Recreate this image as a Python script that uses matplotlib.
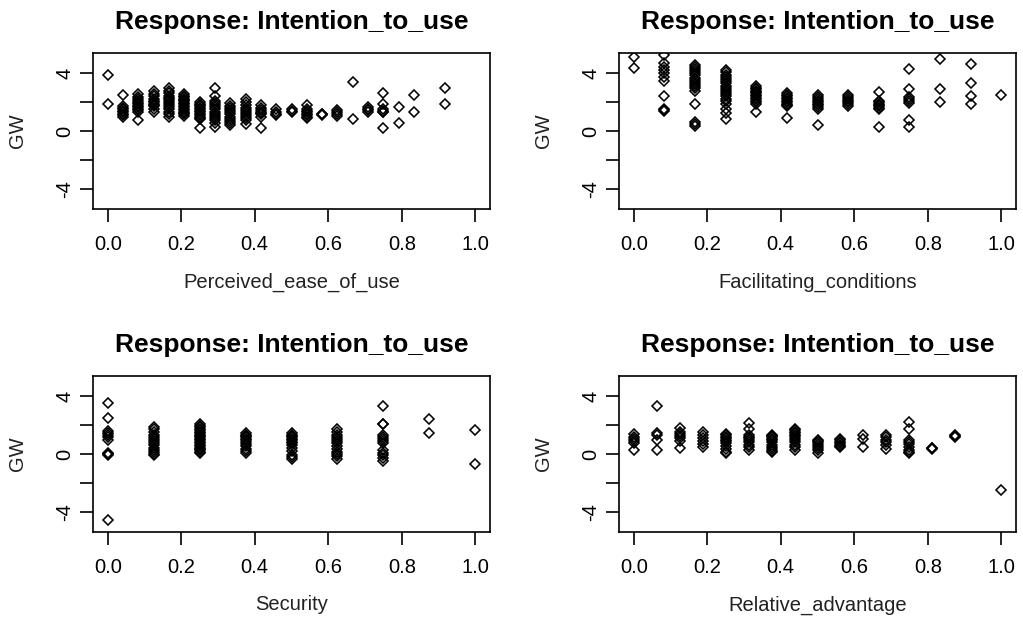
import numpy as np
import matplotlib
matplotlib.use("Agg")
import matplotlib.pyplot as plt

plt.rcParams['font.family'] = ['Liberation Sans', 'DejaVu Sans']

title = "Response: Intention_to_use"
ylab = "GW"
xlabels = ["Perceived_ease_of_use", "Facilitating_conditions", "Security", "Relative_advantage"]

# x levels and GW values (one list of y per x level)
peou_x = [0.0, 0.0417, 0.0833, 0.125, 0.1667, 0.2083, 0.25, 0.2917, 0.3333, 0.375,
          0.4167, 0.4583, 0.5, 0.5417, 0.5833, 0.625, 0.6667, 0.7083, 0.75, 0.7917,
          0.8333, 0.9167]
peou_gw = [
    [3.9, 1.9],
    [2.5, 1.75, 1.6, 1.5, 1.4, 1.3, 1.2, 1.1, 0.95],
    [2.55, 2.35, 2.2, 2.05, 1.95, 1.85, 1.75, 1.65, 1.55, 1.45, 1.35, 0.75],
    [2.75, 2.55, 2.4, 2.25, 2.1, 2.0, 1.9, 1.8, 1.7, 1.5, 1.3],
    [3.0, 2.8, 2.6, 2.45, 2.3, 2.2, 2.05, 1.95, 1.8, 1.65, 1.5, 1.35, 1.2, 0.95],
    [2.55, 2.45, 2.35, 2.25, 2.15, 2.05, 1.95, 1.85, 1.75, 1.65, 1.55, 1.45, 1.35, 1.25, 1.15, 1.05],
    [2.0, 1.9, 1.8, 1.7, 1.6, 1.5, 1.4, 1.3, 1.2, 1.1, 1.0, 0.9, 0.8, 0.2],
    [3.0, 2.45, 2.1, 1.95, 1.8, 1.65, 1.5, 1.35, 1.2, 1.05, 0.9, 0.75, 0.55, 0.3],
    [1.95, 1.75, 1.6, 1.45, 1.3, 1.15, 1.0, 0.85, 0.7, 0.55, 0.45],
    [2.2, 2.0, 1.8, 1.6, 1.45, 1.3, 1.2, 1.05, 0.9, 0.75, 0.5],
    [1.8, 1.6, 1.45, 1.35, 1.25, 1.15, 1.0, 0.2],
    [1.5, 1.35, 1.2, 1.1],
    [1.5, 1.4, 1.3],
    [1.8, 1.55, 1.4, 1.3, 1.2, 1.1, 1.0, 0.9],
    [1.2, 1.15, 1.1],
    [1.45, 1.3, 1.15, 1.05],
    [3.4, 0.85],
    [1.65, 1.55, 1.45, 1.35],
    [2.65, 1.85, 1.5, 1.4, 1.35, 1.3, 0.2],
    [1.65, 0.55],
    [2.5, 1.3],
    [3.0, 1.9],
]

fc_x = [0.0, 0.0833, 0.1667, 0.25, 0.3333, 0.4167, 0.5, 0.5833, 0.6667, 0.75,
        0.8333, 0.9167, 1.0]
fc_gw = [
    [5.15, 4.35],
    [5.25, 4.7, 4.4, 4.2, 4.0, 3.75, 3.45, 2.45, 1.5, 1.45, 1.4],
    [4.6, 4.45, 4.3, 4.15, 4.0, 3.85, 3.7, 3.55, 3.4, 3.25, 3.1, 2.95, 2.8, 1.9, 0.65, 0.5, 0.35],
    [4.2, 4.05, 3.9, 3.75, 3.6, 3.45, 3.3, 3.15, 3.0, 2.85, 2.7, 2.55, 2.4, 2.25, 2.05, 1.85, 1.55, 1.25, 0.85],
    [3.1, 3.0, 2.9, 2.8, 2.7, 2.6, 2.5, 2.4, 2.3, 2.2, 2.1, 2.0, 1.9, 1.3],
    [2.65, 2.5, 2.4, 2.3, 2.2, 2.1, 2.0, 1.9, 1.8, 1.7, 0.9],
    [2.5, 2.35, 2.2, 2.1, 2.0, 1.9, 1.8, 1.65, 1.5, 0.4],
    [2.5, 2.35, 2.2, 2.1, 2.0, 1.85, 1.7],
    [2.7, 2.1, 2.0, 1.9, 1.8, 1.7, 1.6, 1.5, 0.3],
    [4.3, 2.9, 2.35, 2.2, 2.05, 1.95, 0.75, 0.25],
    [5.0, 2.9, 2.0],
    [4.65, 3.3, 2.45, 1.9],
    [2.5],
]

sec_x = [0.0, 0.125, 0.25, 0.375, 0.5, 0.625, 0.75, 0.875, 1.0]
sec_gw = [
    [3.5, 2.5, 1.6, 1.45, 1.3, 1.15, 1.0, 0.05, 0.0, -0.05, -4.6],
    [1.9, 1.7, 1.5, 1.35, 1.2, 1.05, 0.9, 0.75, 0.6, 0.45, 0.3, 0.15, 0.0, -0.05],
    [2.05, 1.95, 1.85, 1.75, 1.65, 1.55, 1.45, 1.35, 1.25, 1.15, 1.05, 0.95, 0.85,
     0.75, 0.65, 0.55, 0.45, 0.35, 0.25, 0.15, 0.05],
    [1.45, 1.35, 1.25, 1.15, 1.05, 0.95, 0.85, 0.7, 0.55, 0.35, 0.2, 0.05],
    [1.45, 1.35, 1.25, 1.15, 1.05, 0.95, 0.85, 0.75, 0.6, 0.4, 0.2, -0.05, -0.2, -0.35],
    [1.7, 1.5, 1.35, 1.2, 1.05, 0.9, 0.75, 0.55, 0.35, 0.15, 0.0, -0.15, -0.35],
    [3.3, 2.1, 2.05, 1.35, 1.2, 1.05, 0.9, 0.75, 0.3, 0.1, -0.1, -0.3, -0.5],
    [2.45, 1.45],
    [1.65, -0.7],
]

ra_x = [0.0, 0.0625, 0.125, 0.1875, 0.25, 0.3125, 0.375, 0.4375, 0.5, 0.5625,
        0.625, 0.6875, 0.75, 0.8125, 0.875, 1.0]
ra_gw = [
    [1.4, 1.2, 1.05, 0.9, 0.75, 0.25],
    [3.3, 1.45, 1.3, 0.95, 0.3],
    [1.8, 1.55, 1.4, 1.25, 1.1, 0.9, 0.4],
    [1.5, 1.3, 1.1, 0.9, 0.7, 0.5],
    [1.4, 1.3, 1.2, 1.1, 1.0, 0.9, 0.75, 0.55, 0.35, 0.15, 0.05],
    [2.15, 1.75, 1.3, 1.2, 1.1, 0.95, 0.8, 0.65, 0.5, 0.3],
    [1.35, 1.25, 1.15, 1.05, 0.95, 0.8, 0.65, 0.5, 0.35, 0.2, 0.15],
    [1.75, 1.65, 1.55, 1.45, 1.35, 1.25, 1.1, 0.95, 0.8, 0.65, 0.5, 0.3],
    [1.0, 0.9, 0.8, 0.7, 0.55, 0.4, 0.25, 0.05],
    [1.05, 0.95, 0.85, 0.75, 0.65, 0.55, 0.5],
    [1.3, 1.05, 0.5],
    [1.35, 1.15, 1.0, 0.85, 0.6, 0.35],
    [2.25, 1.7, 1.0, 0.85, 0.7, 0.5, 0.3, 0.15, 0.1],
    [0.4, 0.35, 0.45],
    [1.35, 1.25, 1.15],
    [-2.5],
]

xticks = [0.0, 0.2, 0.4, 0.6, 0.8, 1.0]
xticklabels = ["0.0", "0.2", "0.4", "0.6", "0.8", "1.0"]
yticks = [-4, -2, 0, 2, 4]
yticklabels = ["-4", "", "0", "", "4"]

panels = [(peou_x, peou_gw), (fc_x, fc_gw), (sec_x, sec_gw), (ra_x, ra_gw)]

W, H = 1023, 620
fig = plt.figure(figsize=(W / 100, H / 100), dpi=100)

# boxes in pixels: left, top, width, height
boxes = [(93, 53, 397, 156), (619, 53, 397, 156), (93, 376, 397, 156), (619, 376, 397, 156)]

for (xl, yl), xlab, (bl, bt, bw, bh) in zip(panels, xlabels, boxes):
    ax = fig.add_axes([bl / W, 1 - (bt + bh) / H, bw / W, bh / H])
    xs = np.concatenate([[x] * len(g) for x, g in zip(xl, yl)])
    ys = np.concatenate(yl)
    ax.plot(xs, ys, linestyle='none', marker='D', markersize=5.5,
            markerfacecolor='none', markeredgecolor='black', markeredgewidth=1.15)
    ax.set_xlim(-0.04, 1.04)
    ax.set_ylim(-5.4, 5.4)
    ax.set_xticks(xticks)
    ax.set_xticklabels(xticklabels)
    ax.set_yticks(yticks)
    ax.set_yticklabels(yticklabels, rotation=90, va='center')
    ax.tick_params(direction='out', length=9.4, width=1.2, labelsize=14.5, colors='black')
    ax.tick_params(axis='x', pad=9)
    ax.tick_params(axis='y', pad=4)
    for s in ax.spines.values():
        s.set_linewidth(1.2)
    ax.set_title(title, fontsize=19, fontweight='bold', pad=17)
    ax.text(0.5, -73 / bh, xlab, transform=ax.transAxes, ha='center', va='center',
            fontsize=14.5, color='#222222')
    ax.text(-76 / bw, 0.5, ylab, transform=ax.transAxes, ha='center', va='center',
            rotation=90, fontsize=14.5, color='#222222')

fig.savefig("out.png", dpi=100)
